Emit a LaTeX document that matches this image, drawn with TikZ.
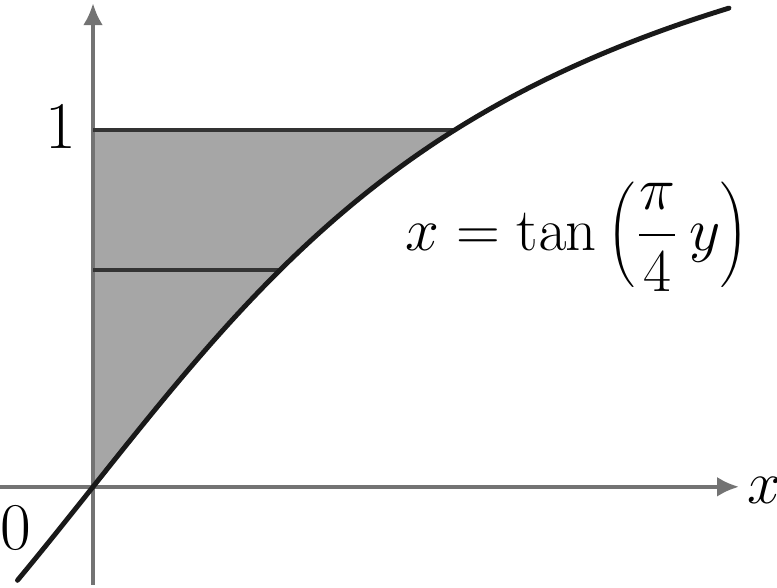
\documentclass[tikz,border=0pt]{standalone}
\usetikzlibrary{arrows.meta}

\begin{document}
\begin{tikzpicture}[x=3.62cm, y=3.57cm,
    axis/.style={black!55, line width=1.1pt, -{Latex[length=2.2mm,width=2mm]}},
    level/.style={black!80, line width=1.3pt},
    lbl/.style={font=\fontsize{19}{23}\selectfont, inner sep=0pt}]
    \useasboundingbox (-0.257,-0.283) rectangle (1.890,1.364);

    \fill[black!35] (0,0) -- plot[domain=0:1, samples=40] ({tan(45*\x)},\x) -- (0,1) -- cycle;

    \coordinate (O) at (0,0);
    \coordinate (xstart) at (-0.257,0);
    \coordinate (xend) at (1.785,0);
    \coordinate (ystart) at (0,-0.275);
    \coordinate (yend) at (0,1.355);
    \draw[axis] (xstart) -- (xend);
    \draw[axis] (ystart) -- (yend);

    \coordinate (top0) at (0,1);
    \coordinate (top1) at ({tan(45)},1);
    \coordinate (mid0) at (0,0.608);
    \coordinate (mid1) at ({tan(45*0.608)},0.608);
    \draw[level] (top0) -- (top1);
    \draw[level] (mid0) -- (mid1);

    \draw[black!90, line width=1.4pt, line cap=round] plot[domain=-0.262:1.342, samples=80, smooth] ({tan(45*\x)},\x);

    \node[lbl] (one) at (-0.09,1.01) {1};
    \node[lbl] (zero) at (-0.213,-0.115) {0};
    \node[lbl] (xlab) at (1.856,-0.01) {$x$};
    \node[lbl] (curve) at (1.337,0.70) {$x=\tan\left(\displaystyle\frac{\pi}{4}\,y\right)$};
\end{tikzpicture}
\end{document}
